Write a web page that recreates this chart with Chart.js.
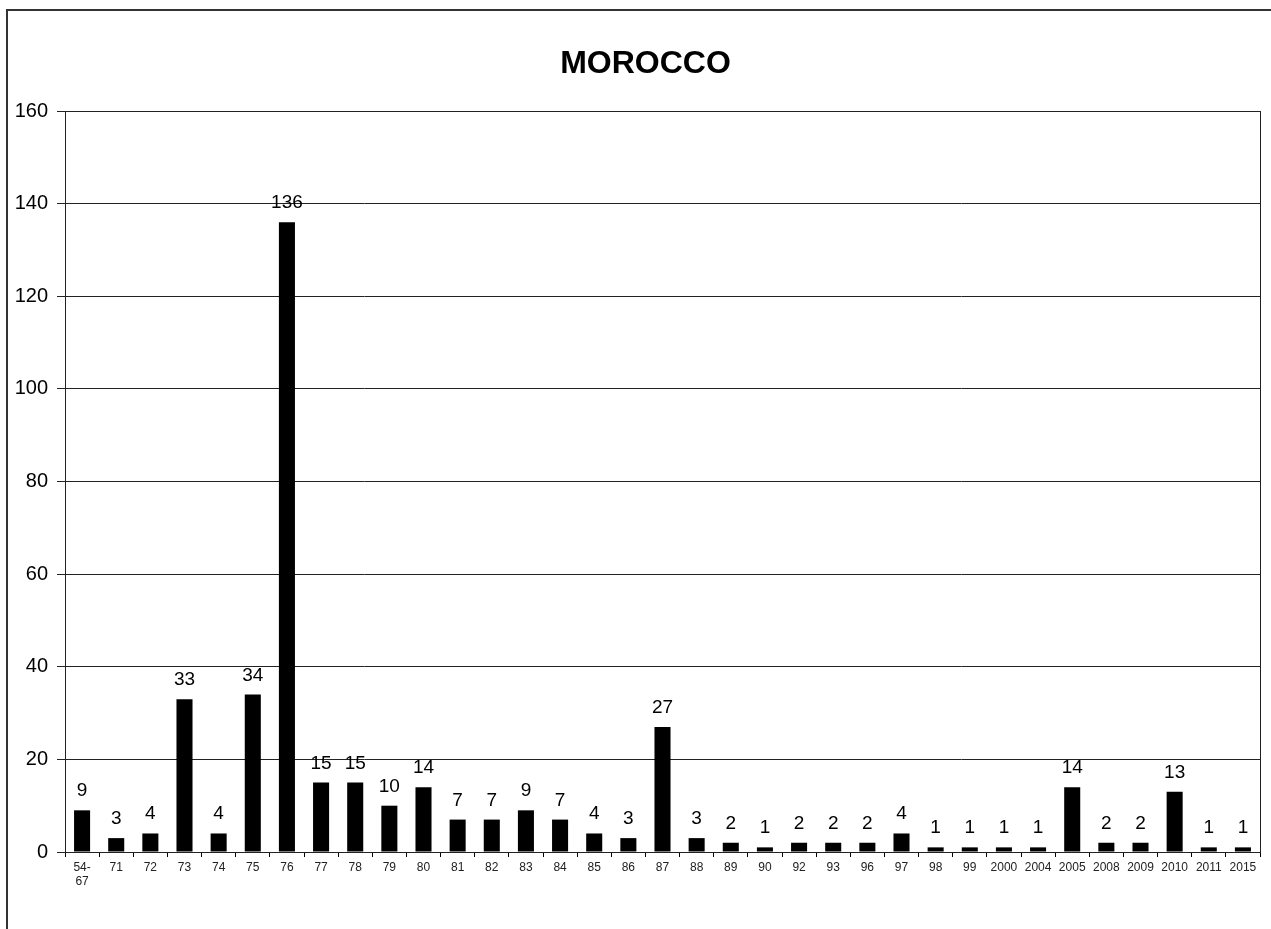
<!DOCTYPE html>
<html>
<head>
<meta charset="utf-8">
<title>MOROCCO</title>
<script src="https://cdn.jsdelivr.net/npm/chart.js@4"></script>
<style>
  html, body { margin: 0; padding: 0; background: #fff; overflow: hidden; }
  #marco {
    position: absolute; left: 6px; top: 9px; width: 1400px; height: 1100px;
    border: 2px solid #333; box-sizing: border-box; pointer-events: none;
  }
  #grafico { position: absolute; left: 0; top: 0; }
</style>
</head>
<body>
<canvas id="grafico" width="1271" height="929"></canvas>
<div id="marco"></div>
<script>
// Datos del gráfico
const titulo = 'MOROCCO';
const categorias = ['54-67', '71', '72', '73', '74', '75', '76', '77', '78', '79', '80', '81', '82', '83',
  '84', '85', '86', '87', '88', '89', '90', '92', '93', '96', '97', '98', '99', '2000', '2004', '2005',
  '2008', '2009', '2010', '2011', '2015'];
const valores = [9, 3, 4, 33, 4, 34, 136, 15, 15, 10, 14, 7, 7, 9, 7, 4, 3, 27, 3, 2, 1, 2, 2, 2, 4,
  1, 1, 1, 1, 14, 2, 2, 13, 1, 1];
const ticksY = [0, 20, 40, 60, 80, 100, 120, 140, 160];

const fuente = 'Arial, "Liberation Sans", sans-serif';

// Título: en el original no está centrado sobre todo el lienzo, se dibuja aparte
const tituloPlugin = {
  id: 'tituloPropio',
  afterDraw(chart) {
    const ctx = chart.ctx;
    ctx.save();
    ctx.font = 'bold 32px ' + fuente;
    ctx.fillStyle = '#000';
    ctx.textAlign = 'center';
    ctx.textBaseline = 'middle';
    ctx.fillText(titulo, chart.width / 2 + 10, 64);
    ctx.restore();
  }
};

// Etiquetas de valor encima de cada barra
const etiquetasPlugin = {
  id: 'etiquetas',
  afterDatasetsDraw(chart) {
    const ctx = chart.ctx;
    const meta = chart.getDatasetMeta(0);
    ctx.save();
    ctx.font = '19px ' + fuente;
    ctx.fillStyle = '#000';
    ctx.textAlign = 'center';
    ctx.textBaseline = 'alphabetic';
    meta.data.forEach((barra, i) => {
      ctx.fillText(String(valores[i]), barra.x, barra.y - 14);
    });
    ctx.restore();
  }
};

// Recuadro del área de trazado
const recuadroPlugin = {
  id: 'recuadro',
  afterDraw(chart) {
    const a = chart.chartArea;
    const ctx = chart.ctx;
    ctx.save();
    ctx.strokeStyle = '#222';
    ctx.lineWidth = 1;
    ctx.strokeRect(Math.round(a.left) + 0.5, Math.round(a.top) + 0.5,
      Math.round(a.right - a.left), Math.round(a.bottom - a.top));
    ctx.restore();
  }
};

const ctx = document.getElementById('grafico');

new Chart(ctx, {
  type: 'bar',
  data: {
    labels: categorias,
    datasets: [{
      data: valores,
      backgroundColor: '#000',
      borderWidth: 0,
      categoryPercentage: 1,
      barPercentage: 0.47
    }]
  },
  options: {
    responsive: false,
    animation: false,
    devicePixelRatio: 1,
    layout: { padding: { left: 0, right: 11, top: 111, bottom: 0 } },
    plugins: {
      legend: { display: false },
      tooltip: { enabled: false },
      title: { display: false }
    },
    scales: {
      x: {
        afterFit(scale) { scale.height = 77; },
        grid: { drawOnChartArea: false, offset: true, tickLength: 5, color: '#000' },
        border: { color: '#000' },
        ticks: {
          autoSkip: false,
          maxRotation: 0,
          minRotation: 0,
          color: '#222',
          padding: 3,
          font: { family: fuente, size: 12 },
          callback(valor, indice) {
            const texto = categorias[indice];
            return texto.includes('-') ? [texto.split('-')[0] + '-', texto.split('-')[1]] : texto;
          }
        }
      },
      y: {
        min: ticksY[0],
        max: ticksY[ticksY.length - 1],
        afterFit(scale) { scale.width = 65; },
        afterBuildTicks(scale) { scale.ticks = ticksY.map(v => ({ value: v })); },
        grid: { color: '#222', tickLength: 8 },
        border: { color: '#000' },
        ticks: {
          color: '#000',
          padding: 9,
          font: { family: fuente, size: 20 }
        }
      }
    }
  },
  plugins: [etiquetasPlugin, recuadroPlugin, tituloPlugin]
});
</script>
</body>
</html>
